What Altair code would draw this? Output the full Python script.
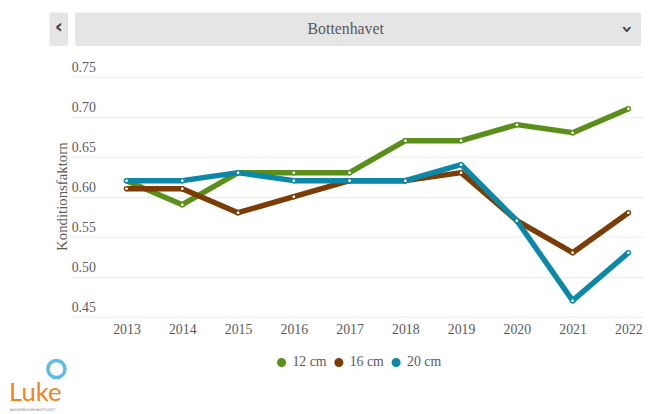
import altair as alt
import pandas as pd

years = [2013, 2014, 2015, 2016, 2017, 2018, 2019, 2020, 2021, 2022]
series_names = ["12 cm", "16 cm", "20 cm"]
values_12 = [0.62, 0.59, 0.63, 0.63, 0.63, 0.67, 0.67, 0.69, 0.68, 0.71]
values_16 = [0.61, 0.61, 0.58, 0.60, 0.62, 0.62, 0.63, 0.57, 0.53, 0.58]
values_20 = [0.62, 0.62, 0.63, 0.62, 0.62, 0.62, 0.64, 0.57, 0.47, 0.53]
colors = ["#5a8f1a", "#7b3c05", "#0b88a8"]
y_ticks = [0.45, 0.50, 0.55, 0.60, 0.65, 0.70, 0.75]
title_text = "Bottenhavet"
y_title = "Konditionsfaktorn"

rows = []
for name, vals in zip(series_names, [values_12, values_16, values_20]):
    for yr, v in zip(years, vals):
        rows.append({"year": yr, "value": v, "series": name})
df = pd.DataFrame(rows)

SERIF = "Liberation Serif"
GRAY = "#5a5a5a"
W, H = 580, 243

x_enc = alt.X("year:Q",
              scale=alt.Scale(domain=[2012.008, 2022.28], nice=False, zero=False),
              axis=alt.Axis(values=years, format="d", title=None, grid=False,
                            domain=False, ticks=False, labelPadding=6,
                            labelFont=SERIF, labelFontSize=14, labelColor=GRAY,
                            labelFlush=False))
y_enc = alt.Y("value:Q",
              scale=alt.Scale(domain=[0.45, 0.75], nice=False, zero=False),
              axis=alt.Axis(values=y_ticks, format=".2f", title=y_title,
                            grid=True, gridColor="#ebebeb", gridWidth=1,
                            domain=False, ticks=False, labelAlign="left",
                            labelBaseline="bottom", labelPadding=0, labelOffset=-2,
                            labelFont=SERIF, labelFontSize=14, labelColor=GRAY,
                            labelFlush=False,
                            titleFont=SERIF, titleFontSize=15, titleColor=GRAY,
                            titleFontWeight="normal", titleX=-10, titleY=121,
                            titleAngle=-90, titleAlign="center",
                            titleBaseline="middle"))
color_enc = alt.Color("series:N",
                      scale=alt.Scale(domain=series_names, range=colors),
                      legend=alt.Legend(title=None, orient="none", direction="horizontal",
                                        legendX=206, legendY=282, symbolType="circle",
                                        symbolSize=22, symbolStrokeWidth=4.5,
                                        labelFont=SERIF, labelFontSize=14,
                                        labelColor=GRAY, labelOffset=4,
                                        columnPadding=0))

lines = alt.Chart(df).mark_line(strokeWidth=5.5, strokeJoin="round").encode(
    x=x_enc, y=y_enc, color=color_enc)
points = alt.Chart(df).mark_point(filled=True, fill="white", size=18, strokeWidth=1.4,
                                  opacity=1).encode(
    x="year:Q", y="value:Q",
    stroke=alt.Stroke("series:N", scale=alt.Scale(domain=series_names, range=colors),
                      legend=None))

one = pd.DataFrame({"a": [0]})
bar = alt.Chart(one).mark_rect(fill="#e5e5e5", cornerRadius=2).encode(
    x=alt.value(4), x2=alt.value(577), y=alt.value(-65), y2=alt.value(-31))
btn = alt.Chart(one).mark_rect(fill="#e5e5e5", cornerRadius=2).encode(
    x=alt.value(-22), x2=alt.value(-3), y=alt.value(-65), y2=alt.value(-31))
title = alt.Chart(one).mark_text(text=title_text, font=SERIF, fontSize=16,
                                 color=GRAY, align="center", baseline="middle").encode(
    x=alt.value(278), y=alt.value(-48))
left_chev = alt.Chart(one).mark_text(text="‹", font="DejaVu Sans", fontSize=20,
                                     fontWeight="bold", color="#444",
                                     align="center", baseline="middle").encode(
    x=alt.value(-12.5), y=alt.value(-50))
down_chev = alt.Chart(one).mark_text(text="›", font="DejaVu Sans", fontSize=20,
                                     fontWeight="bold", color="#444", angle=90,
                                     align="center", baseline="middle").encode(
    x=alt.value(563), y=alt.value(-48))

luke = alt.Chart(one).mark_text(text="Luke", font="Lato", fontSize=26,
                                color="#f58220", align="left",
                                baseline="alphabetic").encode(
    x=alt.value(-63), y=alt.value(328))
bubble = alt.Chart(one).mark_point(shape="circle", filled=False, stroke="#1aa0d8",
                                   strokeWidth=3.5, size=300).encode(
    x=alt.value(-15), y=alt.value(296))
tagline = alt.Chart(one).mark_text(text="NATURRESURSINSTITUTET", font="DejaVu Sans",
                                   fontSize=3.5, color="#777", align="left",
                                   baseline="middle").encode(
    x=alt.value(-62), y=alt.value(337.5))

chart = alt.layer(bar, btn, title, left_chev, down_chev, lines, points,
                  luke, bubble, tagline).properties(
    width=W, height=H,
    autosize=alt.AutoSizeParams(type="none"),
    padding={"left": 64, "top": 67, "right": 0, "bottom": 96},
).configure_view(stroke=None)

chart.save("out.html", embed_options={"renderer": "svg", "actions": False})
